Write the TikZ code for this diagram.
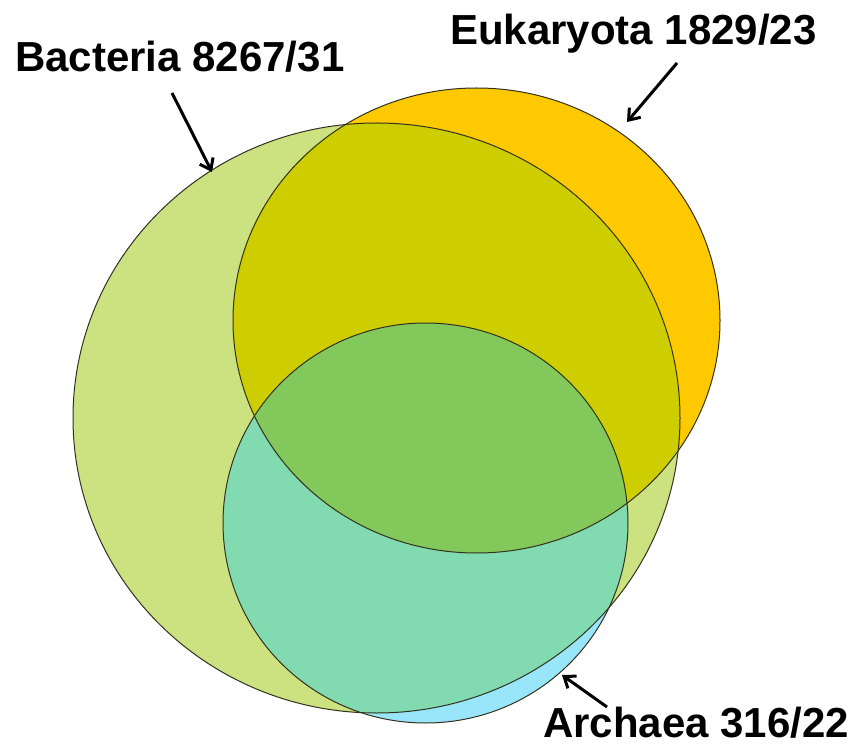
\documentclass[tikz,border=0pt]{standalone}
\usepackage{fontspec}
\setmainfont{Liberation Sans}
\usetikzlibrary{arrows.meta}
\definecolor{bac}{RGB}{204,226,128}
\definecolor{euk}{RGB}{255,201,0}
\definecolor{be}{RGB}{205,205,0}
\definecolor{arc}{RGB}{153,230,250}
\definecolor{ba}{RGB}{130,218,176}
\definecolor{bea}{RGB}{130,200,90}
\definecolor{rimc}{RGB}{50,50,30}
\begin{document}
\begin{tikzpicture}[x=1pt,y=-1pt,
  lbl/.style={font=\fontsize{42}{50}\selectfont\bfseries, inner sep=0pt},
  ptr/.style={line width=3pt, -{Straight Barb[length=10pt,width=15pt]}},
  rim/.style={draw=rimc, line width=1pt}]
\useasboundingbox (0,0) rectangle (860,746);
% base fills
\fill[euk] (476.5,320.5) ellipse [x radius=243.5, y radius=232.5];
\fill[bac] (376.5,418) ellipse [x radius=303.5, y radius=295];
\begin{scope}
  \clip (376.5,418) ellipse [x radius=303.5, y radius=295];
  \fill[be] (476.5,320.5) ellipse [x radius=243.5, y radius=232.5];
\end{scope}
\fill[arc] (425.5,523) ellipse [x radius=202.5, y radius=200];
\begin{scope}
  \clip (425.5,523) ellipse [x radius=202.5, y radius=200];
  \fill[ba] (376.5,418) ellipse [x radius=303.5, y radius=295];
  \clip (376.5,418) ellipse [x radius=303.5, y radius=295];
  \fill[bea] (476.5,320.5) ellipse [x radius=243.5, y radius=232.5];
\end{scope}
% outlines
\draw[rim] (476.5,320.5) ellipse [x radius=243.5, y radius=232.5];
\draw[rim] (376.5,418) ellipse [x radius=303.5, y radius=295];
\draw[rim] (425.5,523) ellipse [x radius=202.5, y radius=200];
% labels
\node[lbl, anchor=base west] (lb) at (15,72) {Bacteria 8267/31};
\node[lbl, anchor=base west] (le) at (450,45) {Eukaryota 1829/23};
\node[lbl, anchor=base west] (la) at (543,737) {Archaea 316/22};
% arrow ends
\coordinate (bs) at (172,93);
\coordinate (bt) at (212,172);
\coordinate (es) at (677,63);
\coordinate (et) at (627,122);
\coordinate (as) at (607,707);
\coordinate (at) at (562,675);
\draw[ptr] (bs) -- (bt);
\draw[ptr] (es) -- (et);
\draw[ptr] (as) -- (at);
\end{tikzpicture}
\end{document}
